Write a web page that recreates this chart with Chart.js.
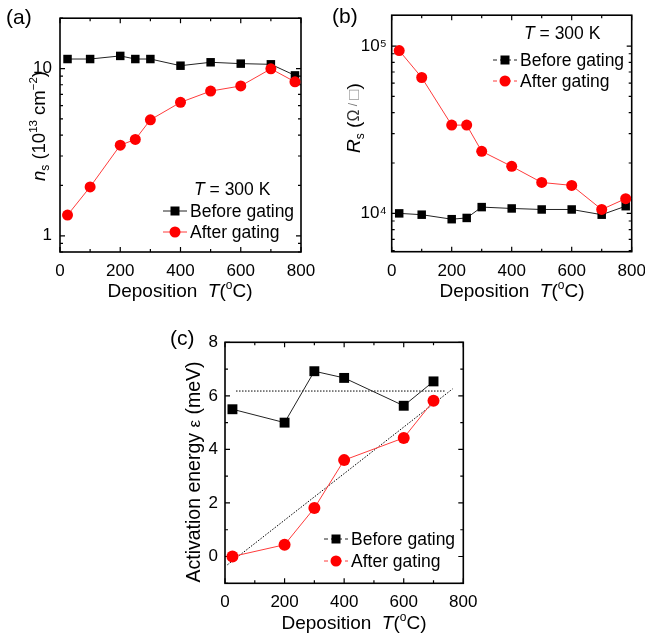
<!DOCTYPE html>
<html>
<head>
<meta charset="utf-8">
<script src="https://cdn.jsdelivr.net/npm/chart.js@4.4.0/dist/chart.umd.min.js"></script>
<style>
html, body { margin: 0; padding: 0; background: #fff; overflow: hidden; width: 645px; height: 640px; }
canvas { position: absolute; left: 0; top: 0; }
</style>
</head>
<body>
<canvas id="chartA" width="680" height="640"></canvas>
<canvas id="chartB" width="680" height="640"></canvas>
<canvas id="chartC" width="680" height="640"></canvas>
<script>
// (a) sheet carrier density, (b) sheet resistance, (c) activation energy
const tempAB = [25, 100, 200, 250, 300, 400, 500, 600, 700, 780];
const nsBefore = [11.4, 11.4, 11.9, 11.4, 11.4, 10.4, 10.9, 10.7, 10.6, 9.1];
const nsAfter = [1.33, 1.96, 3.48, 3.77, 4.94, 6.28, 7.33, 7.87, 9.96, 8.33];
const rsBefore = [10000, 9820, 9230, 9390, 10900, 10700, 10550, 10550, 9820, 11040];
const rsAfter = [94000, 64900, 33700, 33700, 23500, 19100, 15300, 14700, 10550, 12250];
const tempC = [25, 200, 300, 400, 600, 700];
const eBefore = [5.5, 5.0, 6.92, 6.67, 5.63, 6.54];
const eAfter = [0, 0.44, 1.81, 3.6, 4.43, 5.82];
const flatFitX = [37, 738];
const flatFitY = [6.18, 6.18];
const linFitX = [8, 764];
const linFitY = [-0.31, 6.26];

const FONT = "'Liberation Sans', Arial, sans-serif";
const W = 680, H = 640;

function pts(xs, ys) {
    return xs.map((x, i) => ({ x: x, y: ys[i] }));
}

// text with sub/superscripts; parts = [text, size, italic, dy, color]
function rich(ctx, x, y, parts, rot, align) {
    ctx.save();
    ctx.translate(x, y);
    if (rot) ctx.rotate(-Math.PI / 2);
    ctx.textBaseline = 'alphabetic';
    ctx.textAlign = 'left';
    let total = 0;
    parts.forEach(p => {
        ctx.font = (p[2] ? 'italic ' : '') + p[1] + 'px ' + FONT;
        total += ctx.measureText(p[0]).width;
    });
    let cx = align === 'left' ? 0 : -total / 2;
    parts.forEach(p => {
        ctx.font = (p[2] ? 'italic ' : '') + p[1] + 'px ' + FONT;
        ctx.fillStyle = p[4] || '#000';
        ctx.fillText(p[0], cx, p[3] || 0);
        cx += ctx.measureText(p[0]).width;
    });
    ctx.restore();
}

function legendRow(ctx, x, y, style, color, label, dashed) {
    ctx.save();
    ctx.strokeStyle = color === '#000' ? '#222' : '#ff3b3b';
    ctx.lineWidth = 1;
    if (dashed) ctx.setLineDash([4, 3]);
    ctx.beginPath();
    ctx.moveTo(x - 12, y);
    ctx.lineTo(x + 12, y);
    ctx.stroke();
    ctx.setLineDash([]);
    ctx.fillStyle = color;
    ctx.beginPath();
    if (style === 'rect') ctx.rect(x - 4.5, y - 4.5, 9, 9);
    else ctx.arc(x, y, 5.5, 0, Math.PI * 2);
    ctx.fill();
    ctx.fillStyle = '#000';
    ctx.font = '17.5px ' + FONT;
    ctx.textBaseline = 'middle';
    ctx.fillText(label, x + 15, y + 1);
    ctx.restore();
}

// box and inward ticks, from the chart's own scales
const framePlugin = {
    id: 'frame',
    beforeDatasetsDraw(chart) {
        const { ctx, chartArea: a } = chart;
        const x = chart.scales.x, y = chart.scales.y;
        ctx.save();
        ctx.strokeStyle = '#000';
        ctx.lineWidth = 1.6;
        ctx.strokeRect(a.left, a.top, a.right - a.left, a.bottom - a.top);
        ctx.lineWidth = 1.2;
        ctx.beginPath();
        x.ticks.forEach(t => {
            const px = x.getPixelForValue(t.value);
            const len = t.value % 200 === 0 ? 5 : 3;
            ctx.moveTo(px, a.bottom); ctx.lineTo(px, a.bottom - len);
            ctx.moveTo(px, a.top); ctx.lineTo(px, a.top + len);
        });
        y.ticks.forEach(t => {
            let major;
            if (y.type === 'logarithmic') {
                const e = Math.floor(Math.log10(t.value) + 1e-9);
                const m = t.value / Math.pow(10, e);
                if (Math.abs(m - Math.round(m)) > 0.01) return;
                major = Math.abs(m - 1) < 0.01;
            } else {
                major = t.value % 2 === 0;
            }
            const py = y.getPixelForValue(t.value);
            const len = major ? 5 : 3;
            ctx.moveTo(a.left, py); ctx.lineTo(a.left + len, py);
            ctx.moveTo(a.right, py); ctx.lineTo(a.right - len, py);
        });
        ctx.stroke();
        ctx.restore();
    }
};

function makeOptions(box, xopt, yopt, draw) {
    return {
        responsive: false,
        animation: false,
        events: [],
        layout: { padding: { left: 0, top: box.top, right: W - box.right, bottom: 0 } },
        plugins: { legend: { display: false }, tooltip: { enabled: false }, annot: { draw: draw } },
        scales: {
            x: Object.assign({
                type: 'linear', min: 0, max: 800,
                grid: { display: false, drawTicks: false },
                border: { display: false },
                afterFit: s => { s.height = H - box.bottom; },
                ticks: {
                    stepSize: 100, padding: 9, color: '#000', maxRotation: 0, autoSkip: false,
                    font: { family: FONT, size: 17 },
                    callback: v => (v % 200 === 0 ? v : '')
                }
            }, xopt),
            y: Object.assign({
                grid: { display: false, drawTicks: false },
                border: { display: false },
                afterFit: s => { s.width = box.left; }
            }, yopt)
        }
    };
}

const annotPlugin = {
    id: 'annot',
    afterDraw(chart, args, opts) {
        if (opts.draw) opts.draw(chart.ctx);
    }
};

function lineSet(label, data, color, style, radius, order) {
    return {
        label: label,
        data: data,
        borderColor: color === '#000' ? '#222' : '#ff3b3b',
        borderWidth: 1,
        backgroundColor: color,
        pointBackgroundColor: color,
        pointBorderWidth: 0,
        pointStyle: style,
        pointRadius: radius,
        tension: 0,
        clip: false,
        order: order
    };
}

// ---------- (a)
new Chart(document.getElementById('chartA').getContext('2d'), {
    type: 'line',
    data: {
        datasets: [
            lineSet('Before gating', pts(tempAB, nsBefore), '#000', 'rect', 6, 1),
            lineSet('After gating', pts(tempAB, nsAfter), '#ff0000', 'circle', 5.5, 0)
        ]
    },
    options: makeOptions({ left: 60, top: 11, right: 301, bottom: 252 }, {}, {
        type: 'logarithmic', min: 0.8, max: 20,
        ticks: {
            padding: 8, color: '#000', autoSkip: false, font: { family: FONT, size: 17 },
            callback: v => (v === 1 || v === 10 ? String(v) : '')
        }
    }, ctx => {
        rich(ctx, 6, 24, [['(a)', 21]], false, 'left');
        rich(ctx, 180, 297, [['Deposition  ', 19], ['T', 19, true], ['(', 19], ['o', 12, false, -8], ['C)', 19]]);
        rich(ctx, 45, 126, [['n', 18.5, true], ['s', 12, false, 4], [' (10', 18.5], ['13', 11.5, false, -8], [' cm', 18.5], ['\u22122', 11.5, false, -8], [')', 18.5]], true);
        rich(ctx, 194, 195, [['T', 17.5, true], [' = 300 K', 17.5]], false, 'left');
        legendRow(ctx, 175, 211, 'rect', '#000', 'Before gating', false);
        legendRow(ctx, 175, 232, 'circle', '#ff0000', 'After gating', false);
    }),
    plugins: [framePlugin, annotPlugin]
});

// ---------- (b)
new Chart(document.getElementById('chartB').getContext('2d'), {
    type: 'line',
    data: {
        datasets: [
            lineSet('Before gating', pts(tempAB, rsBefore), '#000', 'rect', 6, 1),
            lineSet('After gating', pts(tempAB, rsAfter), '#ff0000', 'circle', 5.5, 0)
        ]
    },
    options: makeOptions({ left: 391.7, top: 10.3, right: 631.7, bottom: 251.7 }, {}, {
        type: 'logarithmic', min: 5900, max: 153000,
        ticks: {
            padding: 5, color: '#000', autoSkip: false, font: { family: FONT, size: 17 },
            callback: v => (v === 10000 ? '10\u2074' : v === 100000 ? '10\u2075' : '')
        }
    }, ctx => {
        rich(ctx, 332, 23, [['(b)', 21]], false, 'left');
        rich(ctx, 512, 297, [['Deposition  ', 19], ['T', 19, true], ['(', 19], ['o', 12, false, -8], ['C)', 19]]);
        rich(ctx, 360, 118, [['R', 19, true], ['s', 12, false, 4], [' (', 19], ['\u03a9', 16, false, -1, '#333'], [' / ', 12, false, -3, '#777'], ['\u25a1', 17, false, -1, '#999'], [')', 19]], true);
        rich(ctx, 524, 39, [['T', 17.5, true], [' = 300 K', 17.5]], false, 'left');
        legendRow(ctx, 505, 60, 'rect', '#000', 'Before gating', true);
        legendRow(ctx, 505, 81, 'circle', '#ff0000', 'After gating', true);
    }),
    plugins: [framePlugin, annotPlugin]
});

// ---------- (c)
const fitStyle = {
    borderColor: '#000', borderWidth: 1, borderDash: [1.5, 1.5], pointRadius: 0, clip: false, order: 2
};
new Chart(document.getElementById('chartC').getContext('2d'), {
    type: 'line',
    data: {
        datasets: [
            lineSet('Before gating', pts(tempC, eBefore), '#000', 'rect', 7, 1),
            lineSet('After gating', pts(tempC, eAfter), '#ff0000', 'circle', 6, 0),
            Object.assign({ label: 'fit1', data: pts(flatFitX, flatFitY) }, fitStyle),
            Object.assign({ label: 'fit2', data: pts(linFitX, linFitY) }, fitStyle)
        ]
    },
    options: makeOptions({ left: 225, top: 342.3, right: 463.3, bottom: 583.3 }, {}, {
        type: 'linear', min: -1, max: 8,
        ticks: {
            stepSize: 1, padding: 7, color: '#000', autoSkip: false, font: { family: FONT, size: 17 },
            callback: v => (v % 2 === 0 ? v : '')
        }
    }, ctx => {
        rich(ctx, 170, 345, [['(c)', 21]], false, 'left');
        rich(ctx, 354, 629, [['Deposition  ', 19], ['T', 19, true], ['(', 19], ['o', 12, false, -8], ['C)', 19]]);
        rich(ctx, 200, 472, [['Activation energy ', 19.5], ['\u03b5', 17], [' (meV)', 19.5]], true);
        legendRow(ctx, 336, 539, 'rect', '#000', 'Before gating', true);
        legendRow(ctx, 336, 561, 'circle', '#ff0000', 'After gating', true);
    }),
    plugins: [framePlugin, annotPlugin]
});
</script>
</body>
</html>
